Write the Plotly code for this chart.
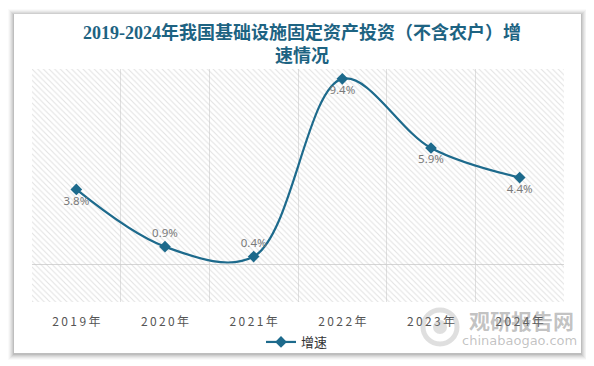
import plotly.graph_objects as go

years = ["2019年", "2020年", "2021年", "2022年", "2023年", "2024年"]
growth = [3.8, 0.9, 0.4, 9.4, 5.9, 4.4]
label_pos = ["bottom center", "top center", "top center", "bottom center", "bottom center", "bottom center"]
series_name = "增速"
title_text = "2019-2024年我国基础设施固定资产投资（不含农户）增<br>速情况"

# page body has an 8px margin; compensate so the figure lands at 0,0 of the window
O = 8
W, H = 594 - O, 366 - O
L, R, T, B = 32 - O, 30, 69 - O, 64
pw, ph = W - L - R, H - T - B

def px(x):
    return (x - O - L) / pw

def py(y):
    return (H - B - (y - O)) / ph

def cy(y):
    return 1 - (y - O) / H

def cx(x):
    return (x - O) / W

LINE = "#1d6a8c"

fig = go.Figure()

# hatched plot-area background (decoration)
fig.add_trace(go.Scatter(
    x=[0, 1, 1, 0, 0], y=[0, 0, 1, 1, 0], mode="lines", fill="toself",
    line=dict(width=0), fillcolor="rgba(255,255,255,0)",
    fillpattern=dict(shape="\\", fgcolor="#c6c6c6", bgcolor="rgba(255,255,255,0)", size=4, solidity=0.27),
    hoverinfo="skip", showlegend=False, xaxis="x", yaxis="y"))

spaced = ["\u2009".join(list(t)) for t in years]

fig.add_trace(go.Scatter(
    x=years, y=growth, name=series_name, mode="lines+markers+text",
    line=dict(color=LINE, width=2.2, shape="spline", smoothing=1.0),
    marker=dict(symbol="diamond", size=9, color=LINE),
    text=[f"{v}%" for v in growth], textposition=label_pos,
    textfont=dict(size=11.5, color="#7a7a7a", family="Noto Sans, sans-serif"),
    xaxis="x2", yaxis="y2", cliponaxis=False))

shapes = []
# card shadow
for i, op in enumerate([0.02, 0.03, 0.04, 0.05, 0.06, 0.08]):
    d = 6 - i
    shapes.append(dict(type="rect", xref="paper", yref="paper", layer="below",
                       x0=px(14 - d), x1=px(581 + d), y0=py(353 + d + 1), y1=py(14 - d + 1),
                       line=dict(width=0), fillcolor=f"rgba(0,0,0,{op})"))
shapes.append(dict(type="rect", xref="paper", yref="paper", layer="below",
                   x0=px(14), x1=px(581), y0=py(353), y1=py(14),
                   line=dict(width=0), fillcolor="white"))
# watermark logo (decoration)
shapes.append(dict(type="circle", xref="paper", yref="paper", layer="above",
                   x0=px(423), x1=px(457), y0=py(344), y1=py(310),
                   line=dict(width=5, color="rgba(140,140,140,0.28)")))
shapes.append(dict(type="circle", xref="paper", yref="paper", layer="above",
                   x0=px(433), x1=px(447), y0=py(334), y1=py(320),
                   line=dict(width=0), fillcolor="rgba(140,140,140,0.28)"))

fig.update_layout(
    width=W, height=H,
    margin=dict(l=L, r=R, t=T, b=B, autoexpand=False),
    paper_bgcolor="white", plot_bgcolor="white",
    shapes=shapes,
    title=dict(text=title_text, x=px(299), xanchor="center", y=cy(38.5), yanchor="middle",
               font=dict(size=18, color="#1d6382", family="Liberation Serif, Noto Sans CJK SC, serif", weight="bold")),
    xaxis=dict(range=[0, 1], visible=False, fixedrange=True, automargin=False),
    yaxis=dict(range=[0, 1], visible=False, fixedrange=True, automargin=False),
    xaxis2=dict(overlaying="x", anchor="y2", type="category", range=[-0.5, 5.5],
                tickvals=years, ticktext=spaced, tickson="boundaries",
                showgrid=True, gridcolor="#e0e0e0", gridwidth=1,
                showline=False, zeroline=False, automargin=False,
                ticks="", ticklabelstandoff=11,
                tickfont=dict(size=12, color="#555555", family="Noto Sans CJK SC, sans-serif")),
    yaxis2=dict(overlaying="y", anchor="x2", range=[-1.9, 9.9], showgrid=False,
                zeroline=True, zerolinecolor="#d6d6d6", zerolinewidth=1, automargin=False,
                showticklabels=False, showline=False),
    showlegend=True,
    legend=dict(orientation="h", xref="container", yref="container",
                x=cx(297), xanchor="center", y=cy(342), yanchor="middle",
                font=dict(size=13, color="#333333", family="Noto Sans CJK SC, sans-serif"),
                itemwidth=30, bgcolor="rgba(0,0,0,0)"),
    annotations=[
        dict(text="观研报告网", xref="paper", yref="paper", x=px(521), y=py(320),
             xanchor="center", yanchor="middle",
             showarrow=False, font=dict(size=21, color="rgba(120,120,120,0.45)",
                                         family="Noto Sans CJK SC, sans-serif", weight="bold")),
        dict(text="chinabaogao.com", xref="paper", yref="paper", x=px(519), y=py(340),
             xanchor="center", yanchor="middle",
             showarrow=False, font=dict(size=13, color="rgba(120,120,120,0.45)",
                                         family="DejaVu Sans, sans-serif")),
    ],
)

fig.write_html("out.html")
